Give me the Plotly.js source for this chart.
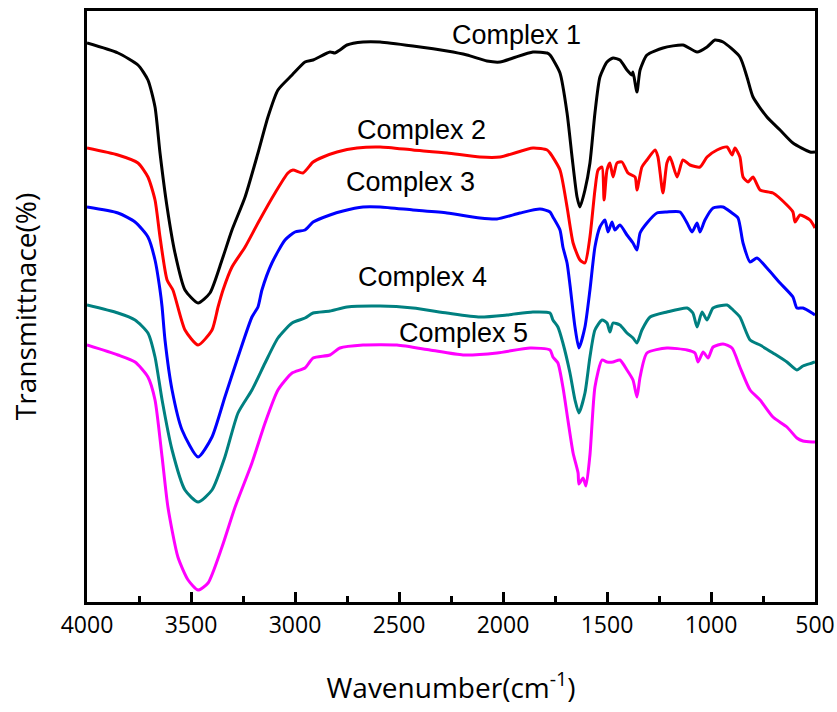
<!DOCTYPE html>
<html>
<head>
<meta charset="utf-8">
<script src="https://cdn.plot.ly/plotly-3.0.1.min.js"></script>
<style>
  html, body { margin: 0; padding: 0; background: #fff; }
  #chart { width: 837px; height: 712px; }
</style>
</head>
<body>
<div id="chart"></div>
<script>
// FT-IR spectra of complexes 1-5, stacked with vertical offsets (arbitrary units)

const wn1 = [4000,3851,3755,3707,3673,3649,3615,3577,3529,3466,3409,3351,3303,3240,3178,3130,3082,3014,2952,2913,2832,2808,2784,2750,2673,2591,2433,2269,2173,2077,2014,1952,1856,1788,1774,1726,1692,1668,1644,1630,1606,1582,1558,1534,1500,1471,1438,1404,1380,1375,1356,1341,1308,1231,1135,1067,1019,981,942,861,827,798,731,668,606,524,500];
const t1  = [559,549,537,522,495,449,395,349,312,299,309,342,372,405,449,485,512,527,540,542,550,549,552,557,560,560,556,551,547,541,540,544,550,549,547,529,489,445,405,395,412,439,489,525,540,544,542,532,527,530,510,532,547,554,557,550,555,562,560,545,525,505,485,472,459,450,450];

const wn2 = [4000,3851,3755,3707,3673,3649,3615,3587,3529,3466,3399,3370,3346,3303,3240,3178,3096,3034,3010,2962,2913,2865,2798,2702,2591,2433,2269,2111,2014,1856,1788,1774,1726,1692,1663,1630,1606,1582,1558,1543,1524,1514,1500,1486,1471,1452,1428,1399,1365,1356,1332,1308,1269,1255,1231,1212,1197,1163,1135,1101,1053,1019,971,923,899,885,861,846,822,798,764,702,635,606,596,572,524,500];
const t2  = [454,447,439,425,402,365,322,312,272,257,272,295,312,335,355,379,409,429,432,429,440,445,450,454,455,452,449,445,445,454,452,449,432,395,359,342,339,365,412,432,435,402,432,439,425,439,440,429,425,412,435,442,452,445,409,439,445,425,442,437,435,445,452,455,447,454,445,425,420,425,412,409,397,390,380,387,382,374];

const wn3 = [4000,3851,3769,3707,3673,3649,3639,3625,3591,3543,3466,3399,3337,3274,3207,3178,3159,3111,3048,3000,2952,2913,2832,2769,2673,2591,2433,2269,2111,2029,1918,1822,1774,1760,1726,1712,1692,1678,1654,1635,1606,1582,1558,1534,1510,1495,1476,1462,1438,1404,1375,1356,1341,1308,1260,1212,1149,1115,1091,1067,1053,1029,990,942,899,870,846,812,779,731,668,606,587,558,514,500];
const t3  = [395,389,380,365,342,312,295,262,212,172,145,165,205,245,285,295,312,339,362,370,372,380,387,391,395,395,392,389,384,383,389,393,390,385,372,355,339,317,275,254,275,312,355,375,382,370,380,372,377,367,359,352,369,379,389,390,390,379,370,379,370,382,394,395,389,384,359,340,344,334,319,305,294,294,289,287];

const wn4 = [4000,3851,3769,3707,3673,3639,3591,3529,3466,3399,3337,3274,3207,3144,3082,3014,2952,2913,2832,2750,2591,2433,2269,2111,1981,1856,1774,1760,1736,1712,1678,1654,1635,1606,1582,1558,1524,1500,1486,1471,1438,1404,1375,1356,1332,1293,1212,1115,1087,1067,1043,1019,990,923,894,861,812,764,702,635,587,558,514,500];
const t4  = [297,289,282,269,245,202,152,112,100,112,145,189,212,239,264,279,284,289,291,295,296,294,289,285,287,290,289,282,275,259,229,202,189,209,245,272,282,279,270,279,277,269,264,259,272,285,290,294,289,275,290,282,294,297,292,285,262,257,249,240,232,236,239,240];

const wn5 = [4000,3851,3769,3707,3673,3639,3611,3563,3514,3466,3418,3351,3288,3207,3144,3082,3014,2952,2913,2832,2784,2673,2510,2351,2192,2029,1870,1774,1760,1736,1712,1688,1663,1639,1635,1615,1601,1582,1558,1524,1500,1471,1438,1404,1375,1356,1341,1308,1212,1115,1077,1062,1038,1014,990,942,899,861,812,764,702,635,587,558,514,500];
const t5  = [257,247,240,225,202,145,95,45,22,12,19,55,95,139,179,212,229,234,244,247,254,257,257,252,247,249,254,252,245,239,215,182,149,129,118,124,116,147,215,242,240,240,242,232,222,205,225,249,254,252,249,240,250,244,255,258,254,235,212,202,185,175,164,161,160,160];

const seriesNames = ["Complex 1", "Complex 2", "Complex 3", "Complex 4", "Complex 5"];
const seriesColors = ["#000000", "#ff0000", "#0000ff", "#008080", "#ff00ff"];

// label anchor points (wavenumber, offset transmittance)
const labelX = [1933, 2394, 2447, 2385, 2192];
const labelY = [567, 472, 420, 325, 269];

const xs = [wn1, wn2, wn3, wn4, wn5];
const ys = [t1, t2, t3, t4, t5];

const traces = xs.map((x, i) => ({
  type: "scatter",
  mode: "lines",
  name: seriesNames[i],
  x: x,
  y: ys[i],
  line: { color: seriesColors[i], width: 3, shape: "spline", smoothing: 0.6 },
  hoverinfo: "x+y+name"
}));

const annotations = seriesNames.map((name, i) => ({
  x: labelX[i],
  y: labelY[i],
  xref: "x",
  yref: "y",
  text: name,
  showarrow: false,
  xanchor: "center",
  yanchor: "middle",
  font: { family: "Liberation Sans, Arial, sans-serif", size: 27, color: "#000" }
}));

const layout = {
  width: 837,
  height: 712,
  margin: { l: 87, r: 22, t: 11, b: 110 },
  paper_bgcolor: "#ffffff",
  plot_bgcolor: "#ffffff",
  showlegend: false,
  xaxis: {
    range: [4000, 500],
    showgrid: false,
    zeroline: false,
    showline: true,
    mirror: true,
    linecolor: "#000",
    linewidth: 3,
    ticks: "inside",
    ticklen: 10,
    tickwidth: 3,
    tickcolor: "#000",
    tick0: 500,
    dtick: 500,
    minor: { ticks: "inside", ticklen: 6, tickwidth: 3, tickcolor: "#000", dtick: 250, tick0: 500 },
    tickfont: { family: "Open Sans, sans-serif", size: 23, color: "#000" },
    title: {
      text: "Wavenumber(cm<sup>-1</sup>)",
      font: { family: "Open Sans, sans-serif", size: 28, color: "#000" },
      standoff: 40
    }
  },
  yaxis: {
    range: [0, 591],
    showgrid: false,
    zeroline: false,
    showline: true,
    mirror: true,
    linecolor: "#000",
    linewidth: 3,
    ticks: "",
    showticklabels: false,
    title: {
      text: "Transmittnace(%)",
      font: { family: "Open Sans, sans-serif", size: 28, color: "#000" },
      standoff: 40
    }
  },
  annotations: annotations
};

Plotly.newPlot("chart", traces, layout, { staticPlot: true, displayModeBar: false });
</script>
</body>
</html>
